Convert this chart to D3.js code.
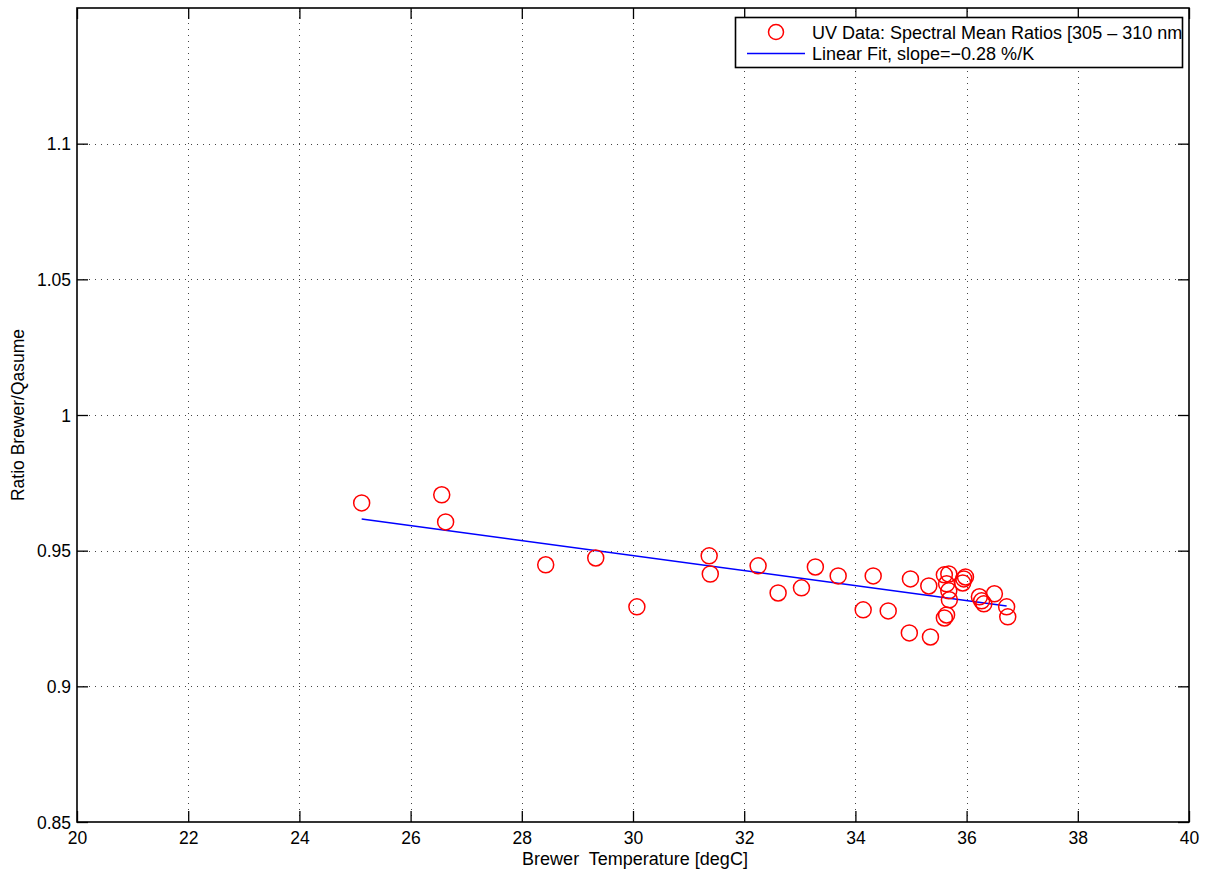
<!DOCTYPE html>
<html>
<head>
<meta charset="utf-8">
<script src="https://cdn.jsdelivr.net/npm/d3@7"></script>
<style>
  html, body { margin: 0; padding: 0; background: #fff; }
  svg { display: block; font-family: "Liberation Sans", Arial, Helvetica, sans-serif; }
</style>
</head>
<body>
<svg id="chart" width="1212" height="875"></svg>
<script>
// ---- data ----
const tempX = [25.12, 26.56, 26.63, 28.43, 29.33, 30.07, 31.37, 31.39, 32.25, 32.61,
               33.03, 33.28, 33.69, 34.14, 34.32, 34.59, 34.99, 34.97, 35.35, 35.32,
               35.60, 35.68, 35.64, 35.68, 35.69, 35.60, 35.64, 35.95, 35.98, 35.93,
               36.23, 36.27, 36.31, 36.50, 36.72, 36.74];
const ratioY = [0.9676, 0.9706, 0.9606, 0.9448, 0.9473, 0.9293, 0.9481, 0.9414, 0.9444, 0.9344,
                0.9363, 0.9440, 0.9407, 0.9282, 0.9407, 0.9278, 0.9396, 0.9197, 0.9182, 0.9370,
                0.9411, 0.9414, 0.9378, 0.9352, 0.9319, 0.9252, 0.9263, 0.9396, 0.9403, 0.9381,
                0.9330, 0.9315, 0.9304, 0.9341, 0.9293, 0.9256];
const fitX = [25.12, 36.72];
const fitY = [0.9617, 0.9296];
const xTicks = [20, 22, 24, 26, 28, 30, 32, 34, 36, 38, 40];
const yTicks = [0.85, 0.9, 0.95, 1, 1.05, 1.1];
const legendLabels = ["UV Data: Spectral Mean Ratios [305 \u2013 310 nm]", "Linear Fit, slope=\u22120.28 %/K"];

// ---- layout ----
const L = 77, R = 1189, T = 8, B = 822;
const FS = 17.5, FL = 18;
const svg = d3.select("#chart");
const x = d3.scaleLinear().domain([20, 40]).range([L, R]);
const y = d3.scaleLinear().domain([0.85, 1.15]).range([B, T]);

// grid
const grid = svg.append("g").attr("stroke", "#444").attr("stroke-width", 1).attr("stroke-dasharray", "1,5");
xTicks.filter(d => d > 20 && d < 40).forEach(d => {
  grid.append("line").attr("x1", Math.round(x(d)) + 0.5).attr("x2", Math.round(x(d)) + 0.5).attr("y1", B).attr("y2", T);
});
yTicks.filter(d => d > 0.85).forEach(d => {
  grid.append("line").attr("y1", Math.round(y(d)) + 0.5).attr("y2", Math.round(y(d)) + 0.5).attr("x1", L).attr("x2", R);
});

// axes
const fmtY = d => d3.format("~g")(d);
const axB = svg.append("g").attr("transform", `translate(0,${B})`)
  .call(d3.axisBottom(x).tickValues(xTicks).tickSize(-11).tickPadding(22).tickFormat(d3.format("d")));
const axT = svg.append("g").attr("transform", `translate(0,${T})`)
  .call(d3.axisTop(x).tickValues(xTicks).tickSize(-11).tickFormat(""));
const axL = svg.append("g").attr("transform", `translate(${L},0)`)
  .call(d3.axisLeft(y).tickValues(yTicks).tickSize(-11).tickPadding(6).tickFormat(fmtY));
const axR = svg.append("g").attr("transform", `translate(${R},0)`)
  .call(d3.axisRight(y).tickValues(yTicks).tickSize(-11).tickFormat(""));
[axB, axT, axL, axR].forEach(a => {
  a.select(".domain").remove();
  a.selectAll("line").attr("stroke", "#000").attr("stroke-width", 1.3);
  a.selectAll("text").attr("fill", "#000").attr("font-size", FS).attr("font-family", "Liberation Sans, Arial, sans-serif");
});
axB.selectAll("text").attr("dy", "0");
axL.selectAll("text").attr("dy", "0.36em");

// frame
svg.append("rect").attr("x", L).attr("y", T).attr("width", R - L).attr("height", B - T)
  .attr("fill", "none").attr("stroke", "#000").attr("stroke-width", 1.6);

// fit line
svg.append("path")
  .datum(fitX.map((d, i) => [d, fitY[i]]))
  .attr("d", d3.line().x(d => x(d[0])).y(d => y(d[1])))
  .attr("fill", "none").attr("stroke", "#0000ff").attr("stroke-width", 1.5);

// points
svg.append("g").selectAll("circle")
  .data(tempX.map((d, i) => [d, ratioY[i]]))
  .join("circle")
  .attr("cx", d => x(d[0])).attr("cy", d => y(d[1])).attr("r", 8)
  .attr("fill", "none").attr("stroke", "#ff0000").attr("stroke-width", 1.5);

// axis labels
svg.append("text").attr("x", 635).attr("y", 865).attr("text-anchor", "middle")
  .attr("font-size", FL).attr("fill", "#000").style("white-space", "pre")
  .text("Brewer  Temperature [degC]");
svg.append("text").attr("transform", `translate(24,${(T + B) / 2}) rotate(-90)`).attr("text-anchor", "middle")
  .attr("font-size", FS).attr("fill", "#000").text("Ratio Brewer/Qasume");

// legend
const lg = svg.append("g");
const LX = 735.5, LY = 17.5, LW = 447, LH = 50;
svg.append("defs").append("clipPath").attr("id", "lgclip")
  .append("rect").attr("x", LX).attr("y", LY).attr("width", LW).attr("height", LH);
lg.append("rect").attr("x", LX).attr("y", LY).attr("width", LW).attr("height", LH).attr("fill", "#fff");
lg.append("circle").attr("cx", 776).attr("cy", 32).attr("r", 7.5)
  .attr("fill", "none").attr("stroke", "#ff0000").attr("stroke-width", 1.5);
lg.append("line").attr("x1", 747).attr("x2", 805).attr("y1", 53.5).attr("y2", 53.5)
  .attr("stroke", "#0000ff").attr("stroke-width", 1.5);
const lgText = lg.append("g").attr("clip-path", "url(#lgclip)");
legendLabels.forEach((t, i) => {
  lgText.append("text").attr("x", 812).attr("y", 33 + i * 21).attr("dy", "0.36em")
    .attr("font-size", FL).attr("fill", "#000").text(t);
});
lg.append("rect").attr("x", LX).attr("y", LY).attr("width", LW).attr("height", LH)
  .attr("fill", "none").attr("stroke", "#000").attr("stroke-width", 1.6);
</script>
</body>
</html>
